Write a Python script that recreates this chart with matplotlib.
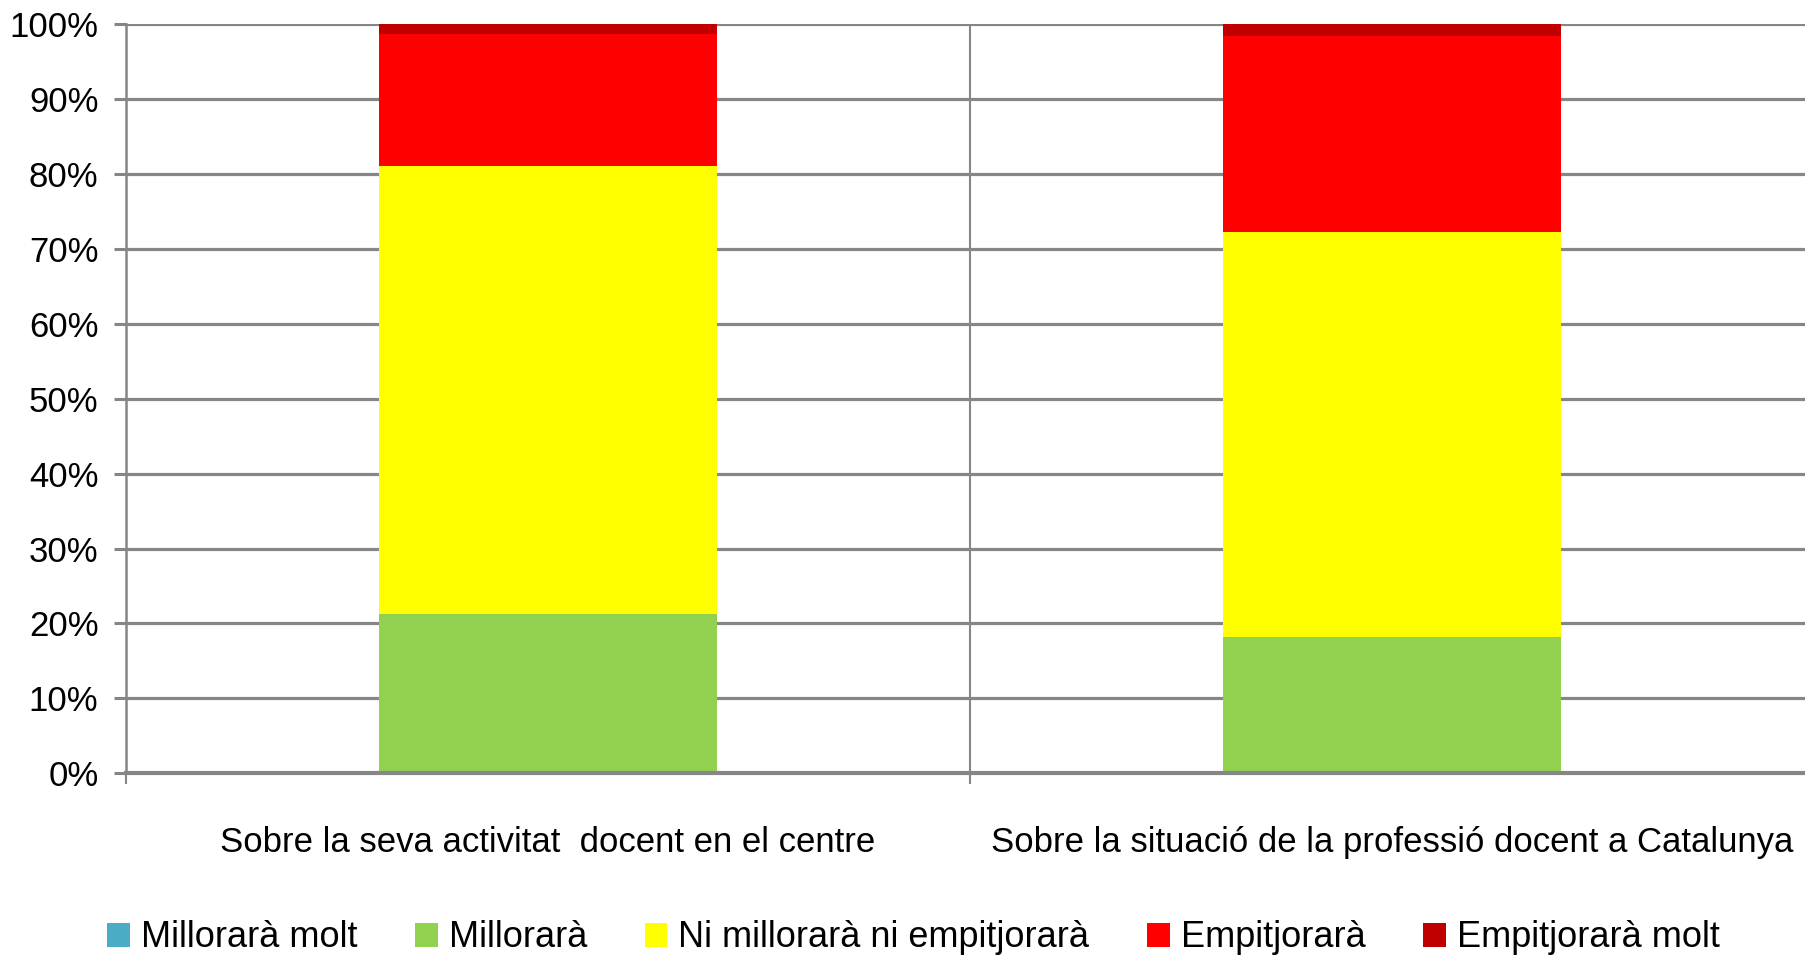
import matplotlib.pyplot as plt
from matplotlib.patches import Patch
from matplotlib.ticker import FixedLocator, PercentFormatter

plt.rcParams['font.family'] = ['Liberation Sans', 'DejaVu Sans']

# data (percent of answers)
categories = ["Sobre la seva activitat  docent en el centre",
              "Sobre la situació de la professió docent a Catalunya"]
series_names = ["Millorarà molt", "Millorarà", "Ni millorarà ni empitjorarà",
                "Empitjorarà", "Empitjorarà molt"]
millorara_molt = [0.0, 0.0]
millorara = [21.2, 18.2]
ni_ni = [59.9, 54.1]
empitjorara = [17.6, 26.1]
empitjorara_molt = [1.3, 1.6]
colors = ["#4BACC6", "#92D050", "#FFFF00", "#FF0000", "#C00000"]

GRID = "#868686"

fig = plt.figure(figsize=(18.05, 9.59), dpi=100)
ax = fig.add_axes([0.0696, 0.1936, 0.9355, 0.7814])

x = list(range(len(categories)))
bottom = [0.0] * len(categories)
for vals, col in zip([millorara_molt, millorara, ni_ni, empitjorara, empitjorara_molt], colors):
    ax.bar(x, vals, width=0.4, bottom=bottom, color=col, edgecolor="none", zorder=3)
    bottom = [b + v for b, v in zip(bottom, vals)]

ax.set_xlim(-0.5, 1.5)
ax.set_ylim(0, 100)
ax.set_yticks(range(0, 101, 10))
ax.yaxis.set_major_formatter(PercentFormatter(decimals=0))
ax.yaxis.grid(True, color=GRID, linewidth=2.3, zorder=1)
ax.set_axisbelow(True)

ax.set_xticks(x)
ax.set_xticklabels(categories)
ax.xaxis.set_minor_locator(FixedLocator([-0.5, 0.5, 1.5]))
ax.xaxis.grid(True, which="minor", color=GRID, linewidth=1.5, zorder=1)

for s in ["top", "right"]:
    ax.spines[s].set_visible(False)
ax.spines["left"].set_color(GRID)
ax.spines["left"].set_linewidth(1.8)
ax.spines["bottom"].set_color(GRID)
ax.spines["bottom"].set_linewidth(3)
ax.spines["bottom"].set_zorder(4)

ax.tick_params(axis="y", length=8.6, width=2.2, color=GRID, pad=11, labelsize=25)
ax.tick_params(axis="x", which="major", length=0, pad=38, labelsize=25)
ax.tick_params(axis="x", which="minor", length=8, width=1.5, color=GRID)

handles = [Patch(facecolor=c, edgecolor="none") for c in colors]
fig.legend(handles, series_names, loc="center", bbox_to_anchor=(0.506, 0.022), ncol=5,
           frameon=False, fontsize=26, handlelength=0.63, handleheight=0.63,
           handletextpad=0.3, columnspacing=1.6, borderaxespad=0)

fig.savefig("out.png", dpi=100)
